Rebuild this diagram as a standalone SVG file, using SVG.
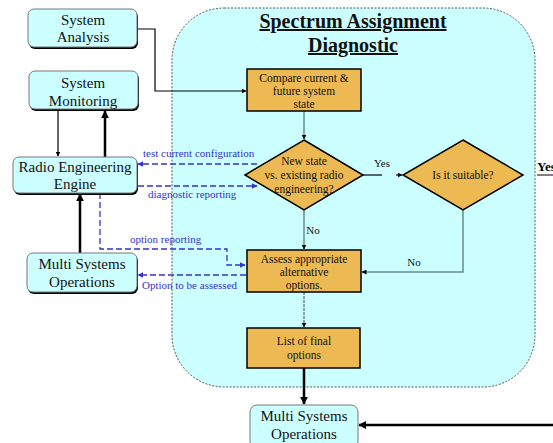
<svg xmlns="http://www.w3.org/2000/svg" width="553" height="443" viewBox="0 0 553 443">
<style>
.node{fill:#ccffff;stroke:#777;stroke-width:1}
.shadow{fill:#000}
.proc{fill:#ecb952;stroke:#000;stroke-width:1.5}
.t{font-family:"Liberation Serif",serif;fill:#111;text-anchor:middle}
.nt{font-size:15px}
.pt{font-size:11.5px}
.bl{font-family:"Liberation Serif",serif;font-size:11px;fill:#3333cc}
.blk{stroke:#000;fill:none;stroke-width:1.2}
.thick{stroke:#000;fill:none;stroke-width:2.5}
.gray{stroke:#6a8a8a;fill:none;stroke-width:1.5}
.dash{stroke:#3333cc;fill:none;stroke-width:1.3;stroke-dasharray:6 3}
</style>
<defs>
<marker id="ah" viewBox="0 0 10 10" refX="9" refY="5" markerWidth="5" markerHeight="5" orient="auto" markerUnits="userSpaceOnUse"><path d="M0,0 L10,5 L0,10 z" fill="#000"/></marker>
<marker id="ahb" viewBox="0 0 10 10" refX="9" refY="5" markerWidth="8" markerHeight="8" orient="auto" markerUnits="userSpaceOnUse"><path d="M0,0 L10,5 L0,10 z" fill="#000"/></marker>
<marker id="ab" viewBox="0 0 10 10" refX="9" refY="5" markerWidth="6" markerHeight="6" orient="auto" markerUnits="userSpaceOnUse"><path d="M0,0 L10,5 L0,10 z" fill="#3333cc"/></marker>
</defs>

<g id="container">
<rect x="172" y="8" width="363" height="379" rx="52" ry="52" fill="#ccffff" stroke="#555" stroke-width="1" stroke-dasharray="2 1.5"/>
<text x="353" y="28" font-family="'Liberation Serif',serif" font-size="20" font-weight="bold" text-anchor="middle" fill="#111" text-decoration="underline">Spectrum Assignment</text>
<text x="353" y="52" font-family="'Liberation Serif',serif" font-size="20" font-weight="bold" text-anchor="middle" fill="#111" text-decoration="underline">Diagnostic</text>
</g>

<g id="connectors">
<polyline class="blk" points="138,29 155,29 155,91 246,91" marker-end="url(#ah)"/>
<line class="blk" x1="58" y1="110" x2="58" y2="156" marker-end="url(#ah)"/>
<line class="thick" x1="105" y1="157" x2="105" y2="111" marker-end="url(#ahb)"/>
<line class="thick" x1="80" y1="253" x2="80" y2="194" marker-end="url(#ahb)"/>
<line class="gray" x1="304" y1="111" x2="304" y2="139" marker-end="url(#ah)"/>
<line class="gray" x1="304" y1="210" x2="304" y2="249" marker-end="url(#ah)"/>
<line class="blk" x1="363" y1="175" x2="382" y2="175"/>
<line class="blk" x1="396" y1="175" x2="402" y2="175" marker-end="url(#ah)"/>
<polyline class="gray" points="463,210 463,272 362,272" marker-end="url(#ah)"/>
<line class="gray" x1="304" y1="292" x2="304" y2="327" stroke-dasharray="3 1" marker-end="url(#ah)"/>
<line class="thick" x1="304" y1="368" x2="304" y2="404" marker-end="url(#ahb)"/>
<line class="thick" x1="553" y1="425" x2="359" y2="425" marker-end="url(#ahb)"/>
<line x1="537" y1="175" x2="553" y2="175" stroke="#000" stroke-width="1"/>
<line class="dash" x1="257" y1="164" x2="138" y2="164" marker-end="url(#ab)"/>
<line class="dash" x1="138" y1="186" x2="257" y2="186" marker-end="url(#ab)"/>
<polyline class="dash" points="100,193 100,249 227,249 227,265 245,265" marker-end="url(#ab)"/>
<line class="dash" x1="246" y1="275" x2="138" y2="275" marker-end="url(#ab)"/>
<text class="bl" x="143" y="157">test current configuration</text>
<text class="bl" x="148" y="198">diagnostic reporting</text>
<text class="bl" x="130" y="243">option reporting</text>
<text class="bl" x="142" y="289">Option to be assessed</text>
<text class="t" x="313" y="234" font-size="11">No</text>
<text class="t" x="414" y="266" font-size="11">No</text>
<text class="t" x="382" y="167" font-size="11">Yes</text>
<text x="537" y="171" font-family="'Liberation Serif',serif" font-size="13" font-weight="bold" fill="#000">Yes</text>
</g>

<g id="system-analysis">
<rect class="shadow" x="29" y="11" width="109" height="38" rx="6"/>
<rect class="node" x="28" y="9" width="109" height="38" rx="6"/>
<text class="t nt" x="83" y="25">System</text>
<text class="t nt" x="83" y="42">Analysis</text>
</g>

<g id="system-monitoring">
<rect class="shadow" x="30" y="73" width="109" height="38" rx="6"/>
<rect class="node" x="29" y="71" width="109" height="38" rx="6"/>
<text class="t nt" x="83" y="88">System</text>
<text class="t nt" x="83" y="106">Monitoring</text>
</g>

<g id="radio-engineering-engine">
<rect class="shadow" x="14" y="159" width="124" height="36" rx="6"/>
<rect class="node" x="13" y="157" width="124" height="36" rx="6"/>
<text class="t nt" x="75" y="172">Radio Engineering</text>
<text class="t nt" x="75" y="189">Engine</text>
</g>

<g id="multi-systems-left">
<rect class="shadow" x="28" y="255" width="110" height="39" rx="6"/>
<rect class="node" x="27" y="253" width="110" height="39" rx="6"/>
<text class="t nt" x="82" y="269">Multi Systems</text>
<text class="t nt" x="82" y="287">Operations</text>
</g>

<g id="compare">
<rect class="proc" x="247" y="69" width="114" height="42"/>
<text class="t pt" x="304" y="82">Compare current &amp;</text>
<text class="t pt" x="304" y="95">future system</text>
<text class="t pt" x="304" y="108">state</text>
</g>

<g id="new-state">
<polygon class="proc" points="304,140 363,175 304,210 245,175"/>
<text class="t pt" x="304" y="165">New state</text>
<text class="t pt" x="304" y="179">vs. existing radio</text>
<text class="t pt" x="304" y="193">engineering?</text>
</g>

<g id="suitable">
<polygon class="proc" points="463,140 523,175 463,210 403,175"/>
<text class="t pt" x="463" y="179">Is it suitable?</text>
</g>

<g id="assess">
<rect class="proc" x="247" y="250" width="114" height="42" stroke-width="2"/>
<text class="t pt" x="304" y="263">Assess appropriate</text>
<text class="t pt" x="304" y="276">alternative</text>
<text class="t pt" x="304" y="289">options.</text>
</g>

<g id="list">
<rect class="proc" x="247" y="328" width="113" height="40"/>
<text class="t pt" x="304" y="345">List of final</text>
<text class="t pt" x="304" y="359">options</text>
</g>

<g id="multi-systems-bottom">
<rect class="node" x="250" y="405" width="108" height="44" rx="7"/>
<text class="t nt" x="304" y="421">Multi Systems</text>
<text class="t nt" x="304" y="439">Operations</text>
</g>
</svg>
